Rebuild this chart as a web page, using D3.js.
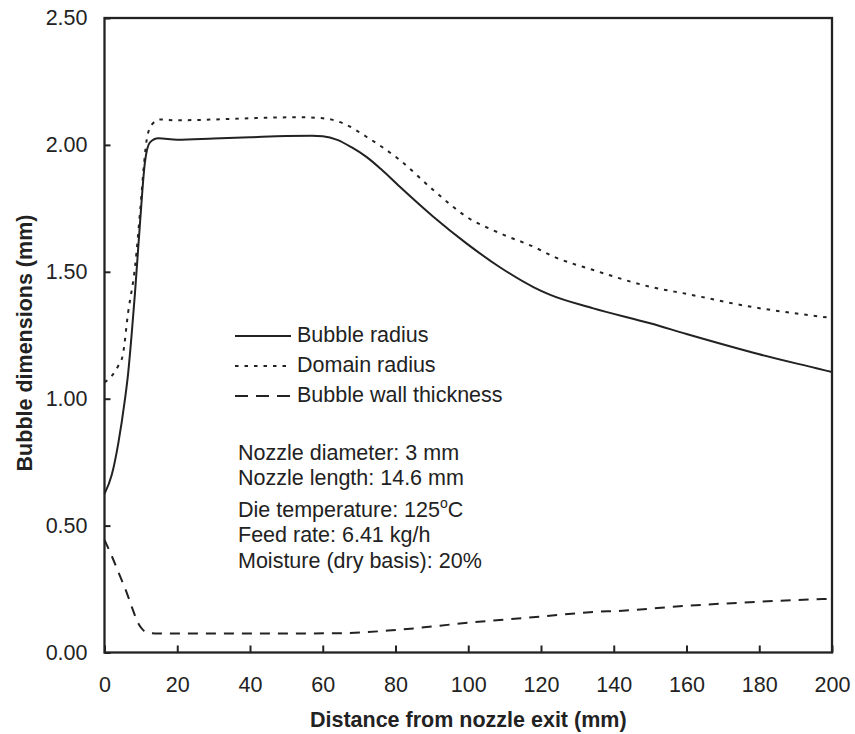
<!DOCTYPE html>
<html>
<head>
<meta charset="utf-8">
<script src="https://cdn.jsdelivr.net/npm/d3@7"></script>
<style>
  body { margin: 0; background: #fff; }
  svg text { font-family: 'Liberation Sans', Arial, sans-serif; fill: #222; }
</style>
</head>
<body>
<div id="chart"></div>
<script>
// distance from nozzle exit (mm)
const radiusX = [0, 2, 3.8, 5.6, 6.5, 7.5, 8.4, 9.8, 11.1, 12.5, 14.8, 20, 30, 40, 50, 57, 60, 64, 68, 72, 76, 81.2, 90.4, 99.5, 108.7, 117.9, 122.4, 134.4, 150, 160, 177.4, 180, 195.7, 200]
const radiusY = [0.625, 0.7, 0.825, 0.995, 1.1, 1.26, 1.42, 1.7, 1.93, 2.01, 2.026, 2.02, 2.025, 2.03, 2.035, 2.036, 2.034, 2.02, 1.99, 1.953, 1.905, 1.835, 1.717, 1.612, 1.518, 1.44, 1.41, 1.356, 1.297, 1.255, 1.185, 1.175, 1.12, 1.105]

const domainX = [0, 2, 3.8, 5, 6.5, 8.4, 9.8, 10.9, 11.6, 13, 15.3, 20, 30, 40, 53.7, 60, 65.6, 72, 81.2, 90.4, 99.5, 108.7, 117.9, 123.8, 134.4, 150, 160, 177.4, 200]
const domainY = [1.065, 1.09, 1.13, 1.17, 1.34, 1.52, 1.74, 1.93, 2.02, 2.08, 2.1, 2.097, 2.1, 2.105, 2.109, 2.105, 2.085, 2.032, 1.94, 1.822, 1.717, 1.652, 1.599, 1.558, 1.507, 1.441, 1.413, 1.363, 1.318]

const wallX = [0, 2, 4.3, 6, 7.5, 9.2, 10.5, 12, 15, 30, 50, 65, 80.3, 100.5, 120.2, 136.2, 140, 160, 180, 200]
const wallY = [0.444, 0.38, 0.3, 0.24, 0.18, 0.117, 0.09, 0.078, 0.075, 0.075, 0.075, 0.076, 0.089, 0.118, 0.142, 0.161, 0.163, 0.184, 0.2, 0.212]

const xTicks = [0, 20, 40, 60, 80, 100, 120, 140, 160, 180, 200]
const yTicks = [0, 0.5, 1, 1.5, 2, 2.5]

const legendLabels = ['Bubble radius', 'Domain radius', 'Bubble wall thickness']
const noteLines = ['Nozzle diameter: 3 mm', 'Nozzle length: 14.6 mm', 'Die temperature: 125°C', 'Feed rate: 6.41 kg/h', 'Moisture (dry basis): 20%']

const width = 855
const height = 734
const margin = { top: 18, right: 23, bottom: 81.5, left: 104.5 }
const fontSize = 21.5
const ink = '#222'

const svg = d3.select('#chart').append('svg')
  .attr('width', width)
  .attr('height', height)

const x = d3.scaleLinear().domain([0, 200]).range([margin.left, width - margin.right])
const y = d3.scaleLinear().domain([0, 2.5]).range([height - margin.bottom, margin.top])

// series with their dash styles
const series = [
  { label: legendLabels[0], xs: radiusX, ys: radiusY, dash: null, key: null },
  { label: legendLabels[1], xs: domainX, ys: domainY, dash: '3.5,6', key: '3.5,6' },
  { label: legendLabels[2], xs: wallX, ys: wallY, dash: '10,8', key: '13,8' },
]

const line = d3.line()
  .x(d => x(d[0]))
  .y(d => y(d[1]))
  .curve(d3.curveMonotoneX)

svg.append('g').selectAll('path')
  .data(series)
  .join('path')
  .attr('d', s => line(s.xs.map((v, i) => [v, s.ys[i]])))
  .attr('fill', 'none')
  .attr('stroke', ink)
  .attr('stroke-width', 2)
  .attr('stroke-dasharray', s => s.dash)

// axes, ticks pointing inward
const xAxis = svg.append('g')
  .attr('transform', `translate(0,${y(0)})`)
  .call(d3.axisBottom(x).tickValues(xTicks).tickSizeInner(-7).tickSizeOuter(0).tickPadding(24))
const yAxis = svg.append('g')
  .attr('transform', `translate(${x(0)},0)`)
  .call(d3.axisLeft(y).tickValues(yTicks).tickFormat(d3.format('.2f')).tickSizeInner(-6).tickSizeOuter(0).tickPadding(17))

;[xAxis, yAxis].forEach(g => {
  g.select('.domain').remove()
  g.selectAll('line').attr('stroke', ink).attr('stroke-width', 2)
  g.selectAll('text')
    .attr('font-size', fontSize)
    .attr('font-family', "'Liberation Sans', Arial, sans-serif")
    .attr('fill', ink)
})

// frame
svg.append('rect')
  .attr('x', x(0))
  .attr('y', y(2.5))
  .attr('width', x(200) - x(0))
  .attr('height', y(0) - y(2.5))
  .attr('fill', 'none')
  .attr('stroke', ink)
  .attr('stroke-width', 2.3)

// axis titles
svg.append('text')
  .attr('x', (x(0) + x(200)) / 2)
  .attr('y', 727)
  .attr('text-anchor', 'middle')
  .attr('font-size', fontSize)
  .attr('font-weight', 'bold')
  .text('Distance from nozzle exit (mm)')

svg.append('text')
  .attr('transform', 'translate(32,343) rotate(-90)')
  .attr('text-anchor', 'middle')
  .attr('font-size', fontSize)
  .attr('font-weight', 'bold')
  .text('Bubble dimensions (mm)')

// legend
const legendRows = [336, 366, 396]
const legend = svg.append('g').selectAll('g')
  .data(series)
  .join('g')
  .attr('transform', (s, i) => `translate(235,${legendRows[i]})`)
legend.append('line')
  .attr('x1', 0)
  .attr('x2', 56)
  .attr('stroke', ink)
  .attr('stroke-width', 2)
  .attr('stroke-dasharray', s => s.key)
legend.append('text')
  .attr('x', 62)
  .attr('dy', '0.3em')
  .attr('font-size', fontSize)
  .text(s => s.label)

// run conditions note
const noteBaselines = [460, 485, 517, 542, 568]
const notes = svg.append('g').selectAll('text')
  .data(noteLines)
  .join('text')
  .attr('x', 238)
  .attr('y', (d, i) => noteBaselines[i])
  .attr('font-size', fontSize)

notes.each(function(d) {
  const t = d3.select(this)
  const parts = d.split('°')
  t.append('tspan').text(parts[0])
  if (parts.length > 1) {
    t.append('tspan').attr('font-size', 14).attr('dy', -9).text('o')
    t.append('tspan').attr('dy', 9).text(parts[1])
  }
})
</script>
</body>
</html>
